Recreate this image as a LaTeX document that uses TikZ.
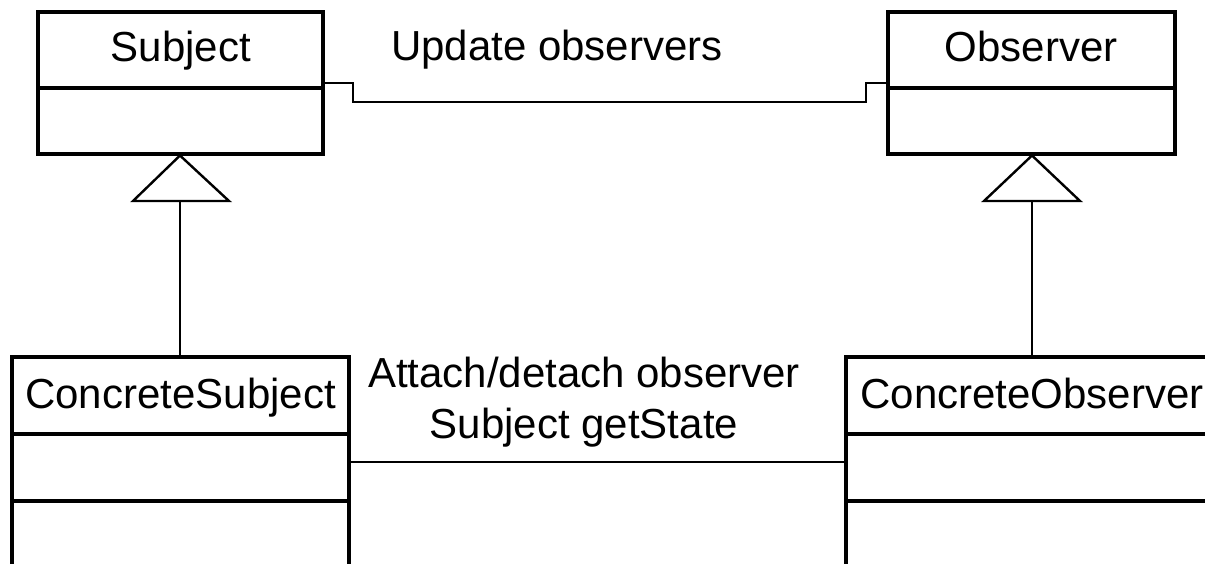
\documentclass[tikz,border=0pt]{standalone}
\usepackage{fontspec}
\setmainfont{Liberation Sans}
\usetikzlibrary{calc}
\begin{document}
\begin{tikzpicture}[x=1pt,y=-1pt,
  umlbox/.style={draw=black, line width=3.2pt, rectangle, inner sep=0pt, outer sep=0pt},
  divider/.style={draw=black, line width=3.2pt},
  title/.style={font=\fontsize{42}{48}\selectfont, inner sep=0pt, anchor=base},
  label/.style={font=\fontsize{42}{51}\selectfont, inner sep=0pt, align=center},
  conn/.style={draw=black, line width=2pt},
  gen/.style={draw=black, line width=2.4pt, line join=miter}]
\useasboundingbox (0,0) rectangle (1205,564);
\clip (0,0) rectangle (1205,564);
% boxes
\node[umlbox, minimum width=285pt, minimum height=142pt] (subject) at (180.5,83) {};
\node[umlbox, minimum width=287pt, minimum height=142pt] (observer) at (1031.5,83) {};
\node[umlbox, minimum width=337pt, minimum height=260pt, anchor=north] (cs) at (180.5,357) {};
\node[umlbox, minimum width=372pt, minimum height=260pt, anchor=north] (co) at (1032,357) {};
% dividers
\draw[divider] (subject.west |- 0,88) -- (subject.east |- 0,88);
\draw[divider] (observer.west |- 0,88) -- (observer.east |- 0,88);
\draw[divider] (cs.west |- 0,434) -- (cs.east |- 0,434);
\draw[divider] (cs.west |- 0,501) -- (cs.east |- 0,501);
\draw[divider] (co.west |- 0,434) -- (co.east |- 0,434);
\draw[divider] (co.west |- 0,501) -- (co.east |- 0,501);
% titles
\node[title] (tsubject) at (181,62) {Subject};
\node[title] (tobserver) at (1031,62) {Observer};
\node[title] (tcs) at (180.5,408) {ConcreteSubject};
\node[title] (tco) at (1032,408) {ConcreteObserver};
% generalizations
\coordinate (sbase) at (180,201);
\coordinate (obase) at (1032,201);
\draw[gen] (180,155.5) -- (133,201) -- (229,201) -- cycle;
\draw[gen] (1032,155.5) -- (984,201) -- (1080,201) -- cycle;
\draw[conn] (cs.north -| sbase) -- (sbase);
\draw[conn] (co.north -| obase) -- (obase);
% association top
\coordinate (a1) at (353,83);
\coordinate (a2) at (866,102);
\draw[conn] (subject.east) -- (a1) |- (a2) |- (observer.west);
\node[label] (lupdate) at (557,50) {Update observers};
% association bottom
\coordinate (b) at (0,462);
\draw[conn] (cs.east |- b) -- (co.west |- b);
\node[label, anchor=base] (lattach) at (584,438) {Attach/detach observer\\Subject getState};
\end{tikzpicture}
\end{document}
